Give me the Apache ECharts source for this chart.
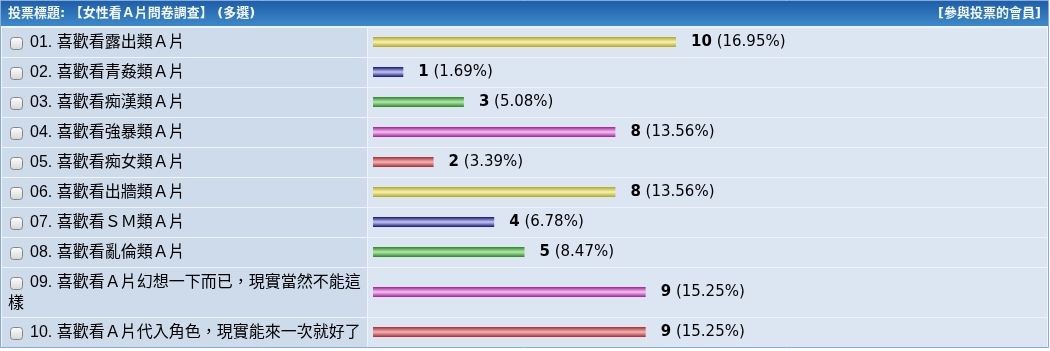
<!DOCTYPE html>
<html>
<head>
<meta charset="utf-8">
<script src="https://cdn.jsdelivr.net/npm/echarts@6/dist/echarts.min.js"></script>
<style>
  html, body { margin: 0; padding: 0; background: #fff; }
  #main { width: 1050px; height: 351px; }
</style>
</head>
<body>
<div id="main"></div>
<script>
/* eslint-disable no-undef */

// poll header texts
const pollTitle = '投票標題: 【女性看Ａ片問卷調查】 (多選)';
const votersLink = '[參與投票的會員]';

// one entry per poll option
const choices = [
  '01. 喜歡看露出類Ａ片',
  '02. 喜歡看青姦類Ａ片',
  '03. 喜歡看痴漢類Ａ片',
  '04. 喜歡看強暴類Ａ片',
  '05. 喜歡看痴女類Ａ片',
  '06. 喜歡看出牆類Ａ片',
  '07. 喜歡看ＳＭ類Ａ片',
  '08. 喜歡看亂倫類Ａ片',
  '09. 喜歡看Ａ片幻想一下而已，現實當然不能這樣',
  '10. 喜歡看Ａ片代入角色，現實能來一次就好了',
];
const votes = [10, 1, 3, 8, 2, 8, 4, 5, 9, 9];
const percents = ['16.95', '1.69', '5.08', '13.56', '3.39', '13.56', '6.78', '8.47', '15.25', '15.25'];

// bar images cycle through these (edge colour, middle colour)
const barColors = [
  ['#B3A626', '#F7F3B4'],
  ['#14147A', '#C6C6F4'],
  ['#2A862A', '#B6E8AA'],
  ['#9E2296', '#F8C2F4'],
  ['#A42C32', '#F4B6B6'],
];

const labelFont = '16px "Liberation Sans", "Noto Sans CJK TC"';
const tableTop = 27;
const leftCellEnd = 367;

// wrap the option text like the html cell does (checkbox takes the first line start)
const measureCtx = document.createElement('canvas').getContext('2d');
const wrapLabel = (text) => {
  measureCtx.font = labelFont;
  const lines = [];
  let cur = '';
  let limit = 364 - 30;
  for (const ch of text) {
    if (cur && measureCtx.measureText(cur + ch).width > limit) {
      lines.push(cur);
      cur = ch;
      limit = 364 - 8;
    } else {
      cur += ch;
    }
  }
  lines.push(cur);
  return lines;
};

const wrapped = choices.map(wrapLabel);
const rowHeights = wrapped.map((lines) => 30 + (lines.length - 1) * 20);
const rowTops = [];
let total = 0;
rowHeights.forEach((h) => {
  rowTops.push(total);
  total += h;
});

const seriesData = votes.map((v, i) => [v, rowTops[i], rowHeights[i]]);

const renderRow = (params, api) => {
  const i = params.dataIndex;
  const v = api.value(0);
  const top = api.value(1);
  const h = api.value(2);
  const start = api.coord([0, top]);
  const end = api.coord([v, top + h / 2]);
  const bottom = api.coord([0, top + h]);
  const cy = end[1];
  const y0 = start[1];
  const [edge, mid] = barColors[i % barColors.length];
  const lines = wrapped[i];

  const children = [
    {
      type: 'rect',
      shape: { x: 2, y: y0 + 1, width: leftCellEnd - 2, height: bottom[1] - y0 - 1 },
      style: { fill: '#CDDBEA' },
    },
    {
      type: 'rect',
      shape: { x: leftCellEnd + 1, y: y0 + 1, width: 1047 - leftCellEnd - 1, height: bottom[1] - y0 - 1 },
      style: { fill: '#DCE6F2' },
    },
    {
      type: 'rect',
      shape: { x: start[0], y: cy - 5, width: end[0] - start[0], height: 10 },
      style: {
        fill: {
          type: 'linear', x: 0, y: 0, x2: 0, y2: 1,
          colorStops: [
            { offset: 0, color: edge },
            { offset: 0.5, color: mid },
            { offset: 1, color: edge },
          ],
        },
      },
    },
    {
      type: 'text',
      x: end[0] + 15,
      y: cy,
      style: {
        text: `{b|${v}} (${percents[i]}%)`,
        font: '15px "DejaVu Sans"',
        fill: '#000',
        verticalAlign: 'middle',
        rich: { b: { font: 'bold 15px "DejaVu Sans"', fill: '#000' } },
      },
    },
    // checkbox
    {
      type: 'rect',
      shape: { x: 10.5, y: y0 + 10.5, width: 12, height: 12, r: 3 },
      style: {
        fill: {
          type: 'linear', x: 0, y: 0, x2: 0, y2: 1,
          colorStops: [{ offset: 0, color: '#FFFFFF' }, { offset: 1, color: '#D6D6D6' }],
        },
        stroke: '#858585',
        lineWidth: 1,
      },
    },
  ];

  lines.forEach((line, n) => {
    children.push({
      type: 'text',
      x: n === 0 ? 30 : 8,
      y: y0 + 15.5 + n * 21.5,
      style: { text: line, font: labelFont, fill: '#000', verticalAlign: 'middle' },
    });
  });

  return { type: 'group', children };
};

const myChart = echarts.init(document.getElementById('main'));

const option = {
  animation: false,
  grid: {
    left: 373,
    top: tableTop,
    width: 303,
    height: total,
  },
  xAxis: { type: 'value', min: 0, max: Math.max(...votes), show: false },
  yAxis: { type: 'value', min: 0, max: total, inverse: true, show: false },
  graphic: [
    {
      type: 'rect',
      z: -10,
      shape: { x: 0.5, y: 0.5, width: 1048, height: tableTop + total },
      style: { fill: '#EEF4FA', stroke: '#86ACD4', lineWidth: 1 },
    },
    {
      type: 'rect',
      z: -5,
      shape: { x: 1, y: 1, width: 1047, height: 25 },
      style: {
        fill: {
          type: 'linear', x: 0, y: 0, x2: 0, y2: 1,
          colorStops: [{ offset: 0, color: '#1F5EA8' }, { offset: 1, color: '#3D89CB' }],
        },
      },
    },
    {
      type: 'text',
      x: 8,
      y: 14,
      style: {
        text: pollTitle,
        font: 'bold 13px "DejaVu Sans", "Noto Sans CJK TC"',
        fill: '#F4F8FC',
        verticalAlign: 'middle',
      },
    },
    {
      type: 'text',
      x: 1041,
      y: 14,
      style: {
        text: votersLink,
        font: 'bold 13px "DejaVu Sans", "Noto Sans CJK TC"',
        fill: '#F4F8FC',
        align: 'right',
        verticalAlign: 'middle',
      },
    },
  ],
  series: [{
    type: 'custom',
    clip: false,
    silent: true,
    renderItem: renderRow,
    data: seriesData,
  }],
};

myChart.setOption(option);
</script>
</body>
</html>
